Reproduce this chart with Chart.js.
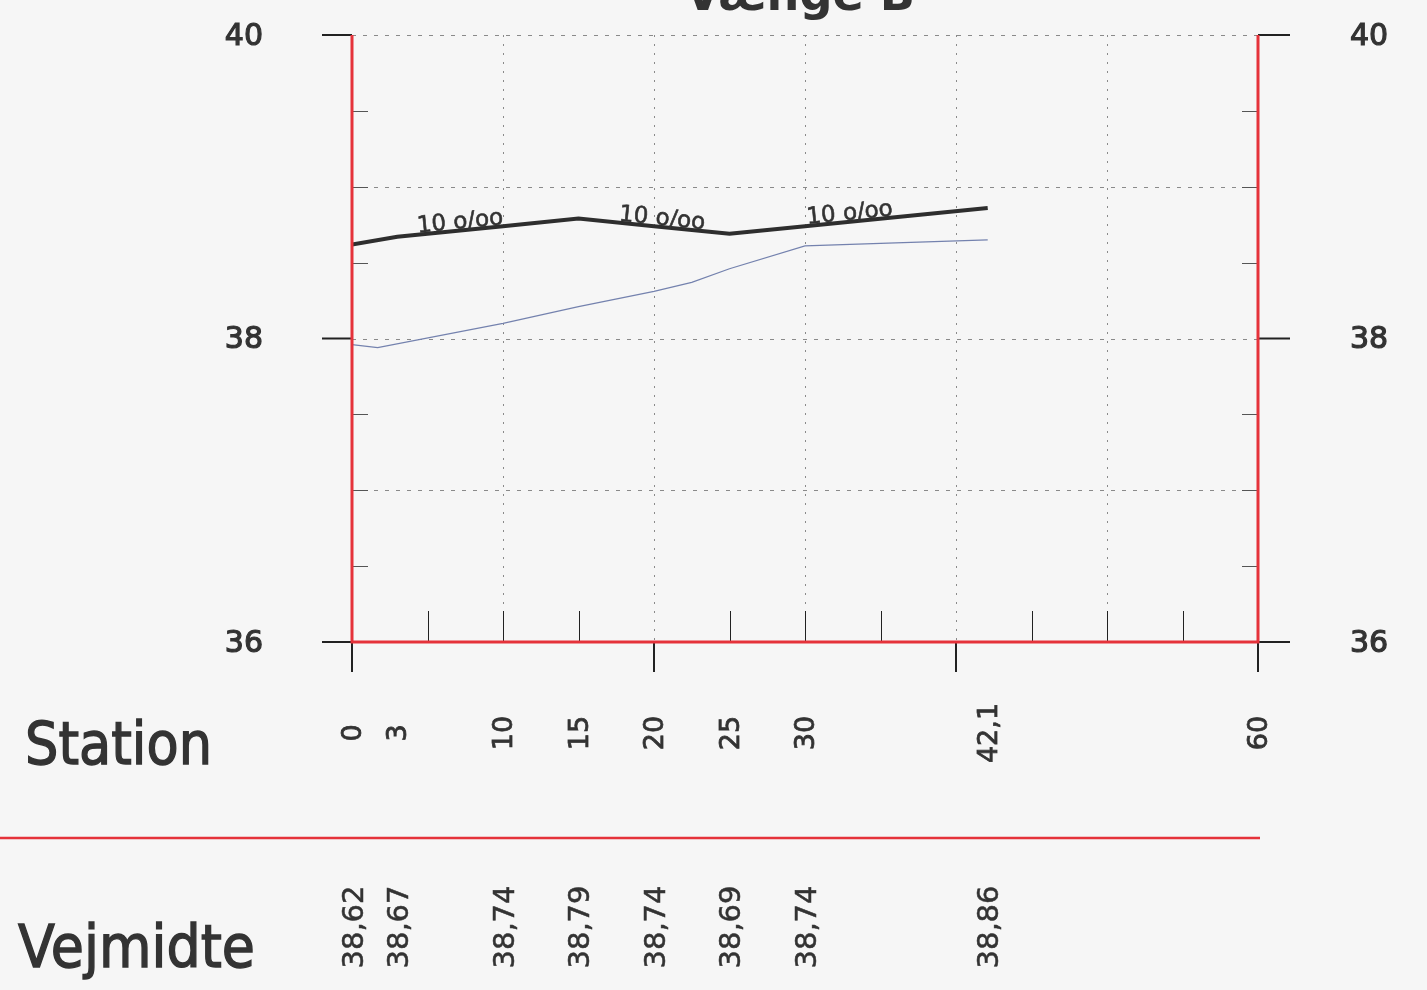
<!DOCTYPE html>
<html>
<head>
<meta charset="utf-8">
<script src="https://cdn.jsdelivr.net/npm/chart.js@4"></script>
<style>
  html, body { margin: 0; padding: 0; background: #f6f6f6; }
  #wrap { width: 1427px; height: 990px; }
</style>
</head>
<body>
<div id="wrap"><canvas id="profileChart" width="1427" height="990"></canvas></div>
<script>
// road profile data
const stations = [0, 3, 10, 15, 20, 25, 30, 42.1];
const vejmidte = [38.62, 38.67, 38.74, 38.79, 38.74, 38.69, 38.74, 38.86];
const vejmidteLabels = ['38,62', '38,67', '38,74', '38,79', '38,74', '38,69', '38,74', '38,86'];

const terrainStations = [0, 1.7, 10, 15, 20, 22.5, 25, 30, 36, 42.1];
const terrain = [37.96, 37.94, 38.10, 38.21, 38.31, 38.37, 38.46, 38.61, 38.63, 38.65];

const stationTicks = [0, 3, 10, 15, 20, 25, 30, 42.1, 60];
const stationTickLabels = ['0', '3', '10', '15', '20', '25', '30', '42,1', '60'];

const slopeStations = [7.2, 20.5, 33];
const slopeTexts = ['10 o/oo', '10 o/oo', '10 o/oo'];

const yTicks = [36, 38, 40];
const yGridLevels = [37, 38, 39, 40];
const yMinorLevels = [36.5, 37, 37.5, 38.5, 39, 39.5];
const xGridStations = [10, 20, 30, 40, 50];
const xInnerTicks = [5, 10, 15, 25, 30, 35, 45, 50, 55];
const xOuterTicks = [0, 20, 40, 60];

const RED = '#e5323a';
const INK = '#333333';
const FONT = '"DejaVu Sans", sans-serif';

// interpolate road level at a station (for slope text placement)
function levelAt(s) {
  for (let i = 0; i < stations.length - 1; i++) {
    if (s >= stations[i] && s <= stations[i + 1]) {
      const t = (s - stations[i]) / (stations[i + 1] - stations[i]);
      return vejmidte[i] + t * (vejmidte[i + 1] - vejmidte[i]);
    }
  }
  return vejmidte[vejmidte.length - 1];
}

// fill + thin stroke, gives a heavier look
function heavyText(ctx, txt, px, py, weight) {
  ctx.fillText(txt, px, py);
  if (weight) {
    ctx.lineWidth = weight;
    ctx.strokeStyle = ctx.fillStyle;
    ctx.strokeText(txt, px, py);
  }
}

// text squeezed/stretched to a given width
function fitText(ctx, txt, left, base, width, weight) {
  const w = ctx.measureText(txt).width;
  ctx.save();
  ctx.translate(left, base);
  ctx.scale(width / w, 1);
  heavyText(ctx, txt, 0, 0, weight);
  ctx.restore();
}

const drawing = {
  id: 'drawing',
  beforeDraw(chart) {
    const ctx = chart.ctx;
    ctx.save();
    ctx.fillStyle = '#f6f6f6';
    ctx.fillRect(0, 0, chart.width, chart.height);
    ctx.restore();
  },
  beforeDatasetsDraw(chart) {
    const ctx = chart.ctx;
    const x = chart.scales.x, y = chart.scales.y;
    const a = chart.chartArea;
    ctx.save();
    ctx.strokeStyle = '#8a8a8a';
    ctx.lineWidth = 1;
    // horizontal dashed grid
    ctx.setLineDash([4, 7]);
    yGridLevels.forEach(v => {
      const py = Math.round(y.getPixelForValue(v)) + 0.5;
      ctx.beginPath(); ctx.moveTo(a.left, py); ctx.lineTo(a.right, py); ctx.stroke();
    });
    // vertical dotted grid
    ctx.setLineDash([2, 7]);
    xGridStations.forEach(s => {
      const px = Math.round(x.getPixelForValue(s)) + 0.5;
      ctx.beginPath(); ctx.moveTo(px, a.top); ctx.lineTo(px, a.bottom); ctx.stroke();
    });
    ctx.setLineDash([]);
    // minor inner ticks on y axes
    ctx.strokeStyle = '#555';
    yMinorLevels.forEach(v => {
      const py = Math.round(y.getPixelForValue(v)) + 0.5;
      ctx.beginPath(); ctx.moveTo(a.left, py); ctx.lineTo(a.left + 16, py); ctx.stroke();
      ctx.beginPath(); ctx.moveTo(a.right - 16, py); ctx.lineTo(a.right, py); ctx.stroke();
    });
    // inner ticks on station axis
    ctx.strokeStyle = '#222';
    xInnerTicks.forEach(s => {
      const px = Math.round(x.getPixelForValue(s)) + 0.5;
      ctx.beginPath(); ctx.moveTo(px, a.bottom); ctx.lineTo(px, a.bottom - 31); ctx.stroke();
    });
    ctx.restore();
  },
  afterDatasetsDraw(chart) {
    const ctx = chart.ctx;
    const x = chart.scales.x, y = chart.scales.y;
    const a = chart.chartArea;
    ctx.save();

    // black outer ticks
    ctx.strokeStyle = '#222';
    ctx.lineWidth = 2;
    yTicks.forEach(v => {
      const py = y.getPixelForValue(v);
      ctx.beginPath(); ctx.moveTo(a.left - 30, py); ctx.lineTo(a.left, py); ctx.stroke();
      ctx.beginPath(); ctx.moveTo(a.right, py); ctx.lineTo(a.right + 32, py); ctx.stroke();
    });
    xOuterTicks.forEach(s => {
      const px = x.getPixelForValue(s);
      ctx.beginPath(); ctx.moveTo(px, a.bottom); ctx.lineTo(px, a.bottom + 30); ctx.stroke();
    });

    // red frame
    ctx.strokeStyle = RED;
    ctx.lineWidth = 3;
    ctx.beginPath();
    ctx.moveTo(a.left, a.top); ctx.lineTo(a.left, a.bottom);
    ctx.lineTo(a.right, a.bottom); ctx.lineTo(a.right, a.top);
    ctx.stroke();

    // separator line
    ctx.lineWidth = 2.5;
    ctx.beginPath(); ctx.moveTo(0, 838); ctx.lineTo(a.right + 2, 838); ctx.stroke();

    ctx.fillStyle = INK;

    // title, cut off by the top edge
    ctx.font = 'bold 48px ' + FONT;
    ctx.textAlign = 'left';
    ctx.textBaseline = 'alphabetic';
    fitText(ctx, 'Vænge B', 685, 10, 230, 0);

    // y labels
    ctx.font = '30px ' + FONT;
    ctx.textBaseline = 'middle';
    yTicks.forEach(v => {
      const py = y.getPixelForValue(v) + 2;
      ctx.textAlign = 'right';
      heavyText(ctx, String(v), 263, py, 1.2);
      ctx.textAlign = 'left';
      heavyText(ctx, String(v), 1350, py, 1.2);
    });

    // row titles
    ctx.textAlign = 'left';
    ctx.textBaseline = 'alphabetic';
    ctx.font = '58px ' + FONT;
    fitText(ctx, 'Station', 25, 764, 187, 1.4);
    fitText(ctx, 'Vejmidte', 18, 967, 237, 1.4);

    // station labels (rotated)
    ctx.font = '27px ' + FONT;
    ctx.textAlign = 'center';
    ctx.textBaseline = 'middle';
    stationTicks.forEach((s, i) => {
      ctx.save();
      ctx.translate(x.getPixelForValue(s) + 2, 733);
      ctx.rotate(-Math.PI / 2);
      heavyText(ctx, stationTickLabels[i], 0, 0, 0.8);
      ctx.restore();
    });

    // vejmidte values (rotated)
    ctx.font = '29px ' + FONT;
    stations.forEach((s, i) => {
      ctx.save();
      ctx.translate(x.getPixelForValue(s) + 3, 927);
      ctx.rotate(-Math.PI / 2);
      heavyText(ctx, vejmidteLabels[i], 0, 0, 0.5);
      ctx.restore();
    });

    // slope texts along the road line
    ctx.font = '23px ' + FONT;
    ctx.textBaseline = 'alphabetic';
    slopeStations.forEach((s, i) => {
      const p0x = x.getPixelForValue(s - 1), p1x = x.getPixelForValue(s + 1);
      const p0y = y.getPixelForValue(levelAt(s - 1)), p1y = y.getPixelForValue(levelAt(s + 1));
      const ang = Math.atan2(p1y - p0y, p1x - p0x);
      ctx.save();
      ctx.translate(x.getPixelForValue(s), y.getPixelForValue(levelAt(s)) - 2);
      ctx.rotate(ang);
      heavyText(ctx, slopeTexts[i], 0, 0, 0.6);
      ctx.restore();
    });

    ctx.restore();
  }
};

new Chart(document.getElementById('profileChart').getContext('2d'), {
  type: 'line',
  data: {
    datasets: [
      {
        label: 'Terræn',
        data: terrainStations.map((s, i) => ({ x: s, y: terrain[i] })),
        borderColor: '#7482ae',
        borderWidth: 1.2,
        pointRadius: 0,
        tension: 0,
        fill: false
      },
      {
        label: 'Vejmidte',
        data: stations.map((s, i) => ({ x: s, y: vejmidte[i] })),
        borderColor: '#2e2e2e',
        borderWidth: 4,
        pointRadius: 0,
        tension: 0,
        fill: false
      }
    ]
  },
  options: {
    responsive: false,
    animation: false,
    layout: { padding: { left: 352, right: 169, top: 35, bottom: 348 } },
    scales: {
      x: { type: 'linear', min: 0, max: 60, display: false },
      y: { type: 'linear', min: 36, max: 40, display: false }
    },
    plugins: {
      legend: { display: false },
      tooltip: { enabled: false },
      title: { display: false }
    }
  },
  plugins: [drawing]
});
</script>
</body>
</html>
